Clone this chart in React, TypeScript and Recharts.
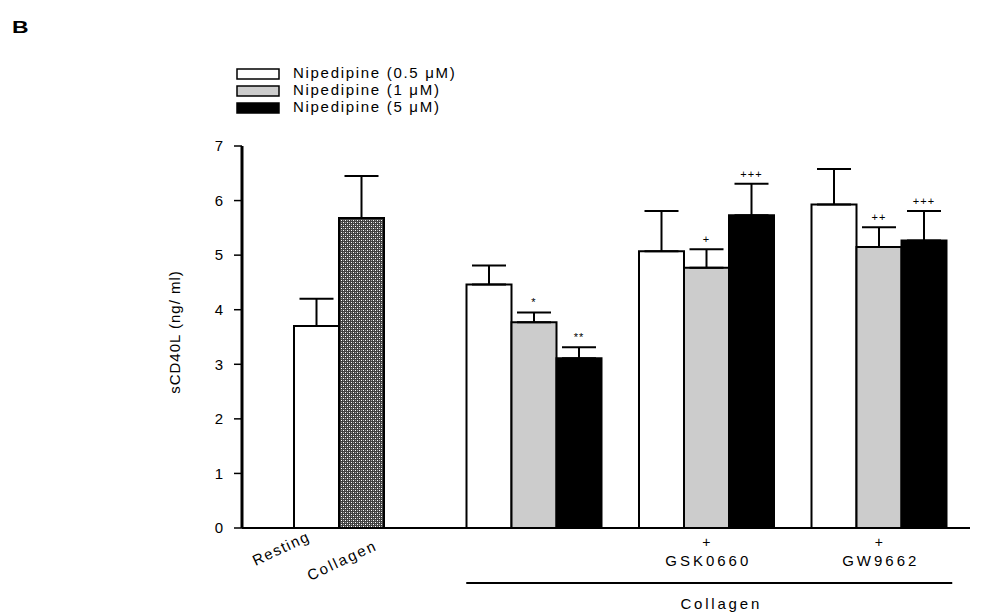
import React from "react";
import {
  BarChart,
  Bar,
  XAxis,
  YAxis,
  ErrorBar,
  Cell,
  Legend,
  LabelList,
} from "recharts";

const groups = ["Control", "Nipedipine", "GSK0660", "GW9662"];
const controlLabels = ["Resting", "Collagen"];

const lowValues = [3.7, 4.46, 5.07, 5.93];
const lowErrors = [0.5, 0.35, 0.74, 0.65];
const midValues = [5.68, 3.77, 4.77, 5.15];
const midErrors = [0.77, 0.18, 0.34, 0.36];
const highValues = [null, 3.11, 5.73, 5.27];
const highErrors = [null, 0.2, 0.58, 0.54];

const midMarks = ["", "*", "+", "++"];
const highMarks = ["", "**", "+++", "+++"];

const yTicks = [0, 1, 2, 3, 4, 5, 6, 7];

const seriesNames = {
  low: "Nipedipine (0.5 \u03bcM)",
  mid: "Nipedipine (1 \u03bcM)",
  high: "Nipedipine (5 \u03bcM)",
};
const seriesFill: Record<string, string> = {
  low: "#ffffff",
  mid: "#cccccc",
  high: "#000000",
};

const data = groups.map((g, i) => ({
  group: g,
  low: lowValues[i],
  lowErr: [0, lowErrors[i]],
  mid: midValues[i],
  midErr: [0, midErrors[i]],
  midMark: midMarks[i],
  midE: midErrors[i],
  high: highValues[i],
  highErr: highErrors[i] == null ? null : [0, highErrors[i]],
  highMark: highMarks[i],
  highE: highErrors[i],
}));

const FONT = "'Liberation Sans', Arial, sans-serif";
const BAR = 45;

// label text placement for the two control bars (offset from bar centre / axis)
const controlLabelPos = [
  { dx: -33, dy: 25, spacing: 1.5 },
  { dx: -17, dy: 37, spacing: 2 },
];

const markKey = (series: "mid" | "high") => (d: any) =>
  d[series + "Mark"] ? `${d[series + "Mark"]}|${d[series + "E"]}|${d[series]}` : "";

const markLabel = (props: any) => {
  const { x, y, width, height, value } = props;
  if (!value) return null;
  const [mark, e, v] = String(value).split("|");
  const top = Number(y) - (Number(e) * Number(height)) / Number(v);
  return (
    <text
      x={Number(x) + Number(width) / 2}
      y={top - 6}
      textAnchor="middle"
      fontSize={11}
      letterSpacing={1}
      fill="#000"
      fontFamily={FONT}
    >
      {mark}
    </text>
  );
};

const renderTick = (props: any) => {
  const { x, y, payload } = props;
  const i = payload.index;
  if (i === 0) {
    return (
      <g>
        {controlLabels.map((t, k) => {
          const p = controlLabelPos[k];
          const cx = x - BAR + k * BAR + p.dx;
          const cy = y + p.dy;
          return (
            <text
              key={t}
              x={cx}
              y={cy}
              textAnchor="middle"
              transform={`rotate(-25 ${cx} ${cy})`}
              fontSize={15}
              letterSpacing={p.spacing}
              fill="#000"
              fontFamily={FONT}
            >
              {t}
            </text>
          );
        })}
      </g>
    );
  }
  if (i === 1) return <g />;
  return (
    <g fontFamily={FONT} fill="#000">
      <text x={x} y={y + 19} textAnchor="middle" fontSize={14}>
        +
      </text>
      <text x={x + 2} y={y + 38} textAnchor="middle" fontSize={15} letterSpacing={3}>
        {payload.value}
      </text>
      {i === 2 && (
        <g>
          <line x1={x - 240} x2={x + 246} y1={y + 55} y2={y + 55} stroke="#000" strokeWidth={2} />
          <text x={x + 15} y={y + 81} textAnchor="middle" fontSize={15} letterSpacing={2.8}>
            Collagen
          </text>
        </g>
      )}
    </g>
  );
};

const renderLegend = (props: any) => {
  const payload = props.payload || [];
  return (
    <svg width={270} height={56} style={{ display: "block" }}>
      {payload.map((p: any, i: number) => (
        <g key={p.value}>
          <rect
            x={7}
            y={6 + i * 17}
            width={42}
            height={10}
            fill={seriesFill[p.dataKey] ?? "#fff"}
            stroke="#000"
            strokeWidth={1.5}
          />
          <text
            x={63}
            y={15 + i * 17}
            fontSize={15}
            letterSpacing={1.7}
            fill="#000"
            fontFamily={FONT}
          >
            {p.value}
          </text>
        </g>
      ))}
    </svg>
  );
};

const renderYLabel = (props: any) => {
  const vb = props.viewBox || { x: 182, y: 146, width: 60, height: 382 };
  const cx = vb.x - 2;
  const cy = vb.y + vb.height / 2 - 5;
  return (
    <text
      x={cx}
      y={cy}
      transform={`rotate(-90 ${cx} ${cy})`}
      textAnchor="middle"
      fontSize={15}
      letterSpacing={1}
      fill="#000"
      fontFamily={FONT}
    >
      sCD40L (ng/ ml)
    </text>
  );
};

export default function App() {
  return (
    <div
      style={{
        position: "absolute",
        left: 0,
        top: 0,
        width: 994,
        height: 614,
        background: "#fff",
        fontFamily: FONT,
      }}
    >
      <div
        style={{
          position: "absolute",
          left: 12,
          top: 19,
          fontSize: 17,
          lineHeight: "17px",
          fontWeight: "bold",
          fontFamily: FONT,
          transform: "scaleX(1.35)",
          transformOrigin: "left top",
        }}
      >
        B
      </div>
      <BarChart
        width={994}
        height={614}
        data={data}
        margin={{ top: 146, right: 24, left: 182, bottom: 6 }}
        barSize={BAR}
        barGap={0}
      >
        <defs>
          <pattern id="collagenDots" width={4} height={4} patternUnits="userSpaceOnUse">
            <rect width={4} height={4} fill="#404040" />
            <rect x={1} y={0} width={1} height={1} fill="#ffffff" />
            <rect x={3} y={2} width={1} height={1} fill="#ffffff" />
            <rect x={1} y={2} width={1} height={1} fill="#a0a0a0" />
            <rect x={3} y={0} width={1} height={1} fill="#a0a0a0" />
          </pattern>
        </defs>
        <XAxis
          dataKey="group"
          tickLine={false}
          tickSize={0}
          tickMargin={0}
          axisLine={{ stroke: "#000", strokeWidth: 2 }}
          padding={{ left: 33, right: 5 }}
          height={80}
          interval={0}
          tick={renderTick}
        />
        <YAxis
          domain={[0, 7]}
          ticks={yTicks}
          interval={0}
          width={60}
          tickSize={8}
          tickMargin={11}
          axisLine={{ stroke: "#000", strokeWidth: 3 }}
          tickLine={{ stroke: "#000", strokeWidth: 1.5 }}
          tick={{ fill: "#000", fontSize: 15, fontFamily: FONT }}
          label={{ content: renderYLabel }}
        />
        <Legend
          layout="vertical"
          align="center"
          verticalAlign="middle"
          content={renderLegend}
          wrapperStyle={{ left: 230, top: 63, width: 270, height: 56 }}
        />
        <Bar
          dataKey="low"
          name={seriesNames.low}
          fill={seriesFill.low}
          stroke="#000"
          strokeWidth={2}
          isAnimationActive={false}
        >
          <ErrorBar dataKey="lowErr" width={17} stroke="#000" strokeWidth={2} direction="y" />
        </Bar>
        <Bar
          dataKey="mid"
          name={seriesNames.mid}
          fill={seriesFill.mid}
          stroke="#000"
          strokeWidth={2}
          isAnimationActive={false}
        >
          {data.map((d, i) => (
            <Cell key={d.group} fill={i === 0 ? "url(#collagenDots)" : seriesFill.mid} />
          ))}
          <ErrorBar dataKey="midErr" width={17} stroke="#000" strokeWidth={2} direction="y" />
          <LabelList dataKey={markKey("mid")} content={markLabel} />
        </Bar>
        <Bar
          dataKey="high"
          name={seriesNames.high}
          fill={seriesFill.high}
          stroke="#000"
          strokeWidth={2}
          isAnimationActive={false}
        >
          <ErrorBar dataKey="highErr" width={17} stroke="#000" strokeWidth={2} direction="y" />
          <LabelList dataKey={markKey("high")} content={markLabel} />
        </Bar>
      </BarChart>
    </div>
  );
}
